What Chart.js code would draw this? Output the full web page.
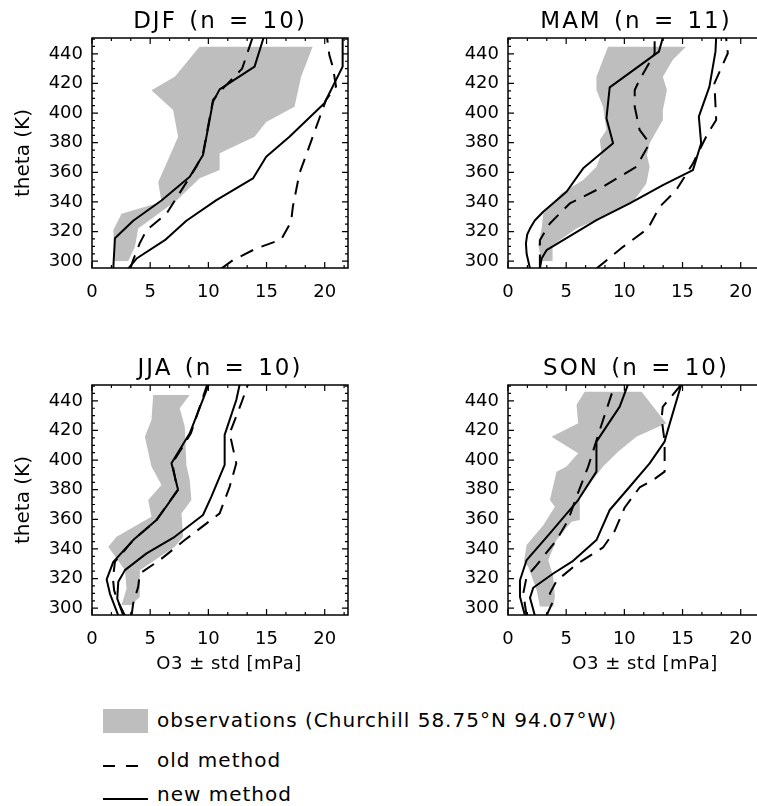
<!DOCTYPE html>
<html>
<head>
<meta charset="utf-8">
<script src="https://cdn.jsdelivr.net/npm/chart.js@4.4.0/dist/chart.umd.min.js"></script>
<style>
html,body{margin:0;padding:0;width:757px;height:806px;overflow:hidden;background:#fff;}
body{position:relative;font-family:"DejaVu Sans",sans-serif;color:#000;}
canvas{position:absolute;}
.txt{position:absolute;white-space:nowrap;line-height:1;transform:translate(-50%,-50%);}
.ttl{font-size:23px;letter-spacing:2px;word-spacing:3px;}
.ytl{font-size:20px;transform:translate(-50%,-50%) rotate(-90deg);}
.xtl{font-size:18px;letter-spacing:0.5px;}
.leg{position:absolute;white-space:nowrap;line-height:1;font-size:20px;letter-spacing:1px;transform:translateY(-50%);}
.sw{position:absolute;}
</style>
</head>
<body>
<script>
// ---------------- data (O3 [mPa], theta [K]) ----------------
const seasons = ['DJF', 'MAM', 'JJA', 'SON'];
const counts = [10, 11, 10, 10];
const xTicks = [0, 5, 10, 15, 20];
const yTicks = [300, 320, 340, 360, 380, 400, 420, 440];

// DJF
const djfObsLeft  = [[1.97,300],[1.83,321],[2.54,332],[5.97,340],[5.69,353.5],[6.4,366],[7.4,384],[6.97,402],[5.11,415.5],[7.11,424.5],[9.26,445]];
const djfObsRight = [[3.11,300],[3.69,309.7],[3.97,322],[7.26,341],[9.26,356],[10.97,361.5],[10.97,372.8],[13.97,384],[14.97,394],[17.4,404.3],[17.97,424.6],[18.97,445]];
const djfOldLow   = [[3.3,295],[3.5,300],[4.1,312],[4.69,321],[6.4,332],[7.69,348],[8.97,363.8],[9.54,372.8],[9.97,390.8],[10.4,408.9],[11.26,416.7],[12.9,430],[13.8,451]];
const djfOldHigh  = [[11.11,295],[12.11,300.7],[14.11,308.6],[16.26,314.6],[17.11,326.6],[17.26,336.7],[17.83,359.3],[18.97,384],[20.11,408.9],[20.97,418],[20.7,431],[20.4,439],[20.2,451]];
const djfNewLow   = [[1.83,295],[1.97,315.5],[3.54,327.3],[5.97,341],[8.4,357],[9.54,371.7],[10.4,407.7],[10.97,416],[13.97,431.4],[14.75,451]];
const djfNewHigh  = [[3.11,295],[3.83,301.8],[6.26,314.2],[8.11,327.3],[10.69,341.2],[13.83,355.9],[14.97,370.5],[16.97,384],[19.97,406.6],[21.54,431.4],[21.54,451]];

// MAM
const mamObsLeft  = [[2.89,300],[2.6,311],[2.89,322],[3.03,332],[4.6,345.8],[6.46,354.8],[7.6,363.8],[8.03,372.8],[7.89,381.8],[8.46,388.6],[8.17,404.3],[7.6,415.6],[7.6,424.6],[8.6,445]];
const mamObsRight = [[3.83,300],[3.83,310.8],[5.89,322],[8.17,330],[10.74,340],[11.89,352.5],[12.17,363.8],[11.94,371.7],[12.17,379.6],[13.31,395.3],[13.31,402],[13.66,415.6],[13.31,424.6],[14.17,436],[15.31,445]];
const mamOldLow   = [[2.74,295],[2.74,314.2],[3.6,325.5],[5.31,339],[8.17,350.3],[11.03,363.8],[12.17,379.6],[11.31,388.6],[10.89,404.3],[10.89,415.6],[11.31,422.4],[12.6,440.4],[12.6,451]];
const mamOldHigh  = [[7.6,295],[9.89,309.7],[12.03,322.1],[13.03,336.7],[14.46,348],[15.89,366],[17.17,386.3],[17.89,395.3],[17.74,420.1],[18.89,440.4],[18.74,451]];
const mamNewLow   = [[1.89,295],[1.6,305],[1.54,312],[1.65,318],[1.89,322],[2.3,327.5],[3.03,333.4],[5.03,346.9],[6.46,362.7],[9.03,379.6],[8.46,396.5],[8.74,417.4],[12.97,441.5],[13.31,451]];
const mamNewHigh  = [[2.74,295],[2.89,301.8],[3.31,307.4],[4.74,314.2],[7.6,327.7],[10.46,339],[13.31,351.4],[15.89,361.5],[16.6,379.6],[16.4,397.6],[17.31,417.9],[17.83,441.5],[17.89,451]];

// JJA
const jjaObsLeft  = [[2.54,302],[2.97,313.3],[2.83,325.7],[1.4,341.5],[2.11,348.2],[5.11,361.8],[4.83,373],[5.97,383.2],[5.11,395.6],[4.54,415.8],[5.11,427.1],[5.26,444]];
const jjaObsRight = [[3.4,302],[4.11,307.7],[4.11,325.7],[7.11,341.5],[7.83,348.2],[7.69,364],[8.54,373],[8.4,386.5],[8.11,396.7],[7.97,422.6],[7.54,435],[8.4,444]];
const jjaOldLow   = [[2.83,295],[2.2,305],[1.9,312],[1.8,320],[1.97,331.3],[3.54,346],[5.54,359.5],[7.35,379.8],[6.9,397.8],[8.5,418.1],[9.9,451]];
const jjaOldHigh  = [[3.4,295],[3.54,303.2],[3.97,314.4],[4.11,323.4],[5.83,332.5],[7.97,346],[10.97,364],[11.83,382],[12.4,397.8],[11.83,418.1],[12.83,438.4],[13.4,451]];
const jjaNewLow   = [[2.26,295],[1.54,309.9],[1.26,319.4],[1.83,331.3],[3.54,346],[5.54,359.5],[7.4,379.8],[6.83,397.8],[8.4,418.1],[10.03,451]];
const jjaNewHigh  = [[2.69,295],[2.17,306.5],[2.26,317.8],[2.83,325.7],[4.69,337],[7.11,348.2],[9.54,362.9],[10.26,375.3],[11.4,396.7],[11.4,417],[12.4,440.6],[12.69,451]];

// SON
const sonObsLeft  = [[2.74,301],[2.46,312.2],[1.74,327.9],[1.37,331.3],[1.6,342.6],[3.03,356],[4.03,368.5],[3.6,373],[4.17,392.2],[5.03,395.6],[6.03,404.6],[3.74,415.8],[6.03,424.9],[5.89,437.3],[6.6,446.3]];
const sonObsRight = [[3.89,301],[4.03,307.7],[3.89,321.2],[3.46,332.5],[4.17,346],[5.46,358.4],[6.17,359.5],[6.17,375.3],[8.17,395.6],[9.46,405.7],[11.03,415.8],[13.6,424.9],[11.46,446.3]];
const sonOldLow   = [[1.6,295],[1.31,309.9],[1.6,321.2],[2.46,329.1],[4.17,346],[5.17,359.5],[5.89,375.3],[6.89,395.6],[7.89,420.4],[8.6,437.3],[9.17,451]];
const sonOldHigh  = [[3.31,295],[3.89,305],[3.6,310],[4.17,318.4],[5.89,329.7],[8.17,341],[9.17,352.2],[10.03,368],[11.31,381.5],[12.46,386.5],[13.46,392.2],[13.46,399],[13.46,412.5],[13.2,428],[13.3,436],[14.89,451]];
const sonNewLow   = [[1.46,295],[1.03,307.7],[1.03,318.9],[1.6,332.5],[3.6,350.5],[6.03,373],[7.6,392.2],[7.6,412.5],[9.6,436.1],[10.31,451]];
const sonNewHigh  = [[2.31,295],[1.89,307],[2.17,313.8],[3.89,323.4],[5.6,332],[7.6,346],[8.74,366.3],[10.46,382],[12.17,397.8],[13.46,412.5],[13.74,420.4],[14.89,451]];

const seasonData = [
  {obsL: djfObsLeft, obsR: djfObsRight, oldL: djfOldLow, oldH: djfOldHigh, newL: djfNewLow, newH: djfNewHigh},
  {obsL: mamObsLeft, obsR: mamObsRight, oldL: mamOldLow, oldH: mamOldHigh, newL: mamNewLow, newH: mamNewHigh},
  {obsL: jjaObsLeft, obsR: jjaObsRight, oldL: jjaOldLow, oldH: jjaOldHigh, newL: jjaNewLow, newH: jjaNewHigh},
  {obsL: sonObsLeft, obsR: sonObsRight, oldL: sonOldLow, oldH: sonOldHigh, newL: sonNewLow, newH: sonNewHigh}
];

// ---------------- layout / style ----------------
const GREY = '#bebebe';
const FONT = '"DejaVu Sans", sans-serif';
const panels = [
  {left: 0,   top: 0,   w: 378, h: 340, area: {l: 92,  t: 38, r: 348, b: 268}},
  {left: 378, top: 0,   w: 400, h: 340, area: {l: 130, t: 38, r: 386, b: 268}},
  {left: 0,   top: 340, w: 378, h: 320, area: {l: 92,  t: 45, r: 348, b: 275}},
  {left: 378, top: 340, w: 400, h: 320, area: {l: 130, t: 45, r: 386, b: 275}}
];

const toPts = arr => arr.map(p => ({x: p[0], y: p[1]}));

const boxPlugin = {
  id: 'idlbox',
  afterDraw(chart) {
    const {ctx, chartArea: a, scales: {x, y}} = chart;
    ctx.save();
    ctx.strokeStyle = '#000';
    ctx.lineWidth = 1.5;
    ctx.strokeRect(a.left, a.top, a.right - a.left, a.bottom - a.top);
    ctx.beginPath();
    for (let i = 0; i * 5 / 3 <= 22; i++) {
      const v = i * 5 / 3;
      const px = x.getPixelForValue(v);
      const len = (i % 3 === 0) ? 6 : 3;
      ctx.moveTo(px, a.bottom); ctx.lineTo(px, a.bottom - len);
      ctx.moveTo(px, a.top); ctx.lineTo(px, a.top + len);
    }
    for (let v = 300; v <= 450; v += 5) {
      const py = y.getPixelForValue(v);
      const len = (v % 20 === 0) ? 6 : 3;
      ctx.moveTo(a.left, py); ctx.lineTo(a.left + len, py);
      ctx.moveTo(a.right, py); ctx.lineTo(a.right - len, py);
    }
    ctx.lineWidth = 1.2;
    ctx.stroke();
    ctx.restore();
  }
};

function addText(cls, text, x, y) {
  const d = document.createElement('div');
  d.className = cls;
  d.textContent = text;
  d.style.left = x + 'px';
  d.style.top = y + 'px';
  document.body.appendChild(d);
  return d;
}

panels.forEach((p, idx) => {
  const cv = document.createElement('canvas');
  cv.width = p.w; cv.height = p.h;
  cv.style.left = p.left + 'px'; cv.style.top = p.top + 'px';
  cv.style.width = p.w + 'px'; cv.style.height = p.h + 'px';
  document.body.appendChild(cv);
  const s = seasonData[idx];
  const a = p.area;
  const lineDs = (d, dashed) => ({
    data: toPts(d), borderColor: '#000', borderWidth: 2, borderDash: dashed ? [14, 9] : [],
    fill: false, pointRadius: 0, borderJoinStyle: 'round', borderCapStyle: 'butt'
  });
  new Chart(cv, {
    type: 'line',
    data: {
      datasets: [
        {data: toPts(s.obsL), borderWidth: 0, borderColor: 'rgba(0,0,0,0)', backgroundColor: GREY, fill: false, pointRadius: 0},
        {data: toPts(s.obsR), borderWidth: 0, borderColor: 'rgba(0,0,0,0)', backgroundColor: GREY, fill: '-1', pointRadius: 0},
        lineDs(s.oldL, true),
        lineDs(s.oldH, true),
        lineDs(s.newL, false),
        lineDs(s.newH, false)
      ]
    },
    options: {
      indexAxis: 'y',
      responsive: false,
      animation: false,
      devicePixelRatio: 1,
      layout: {padding: {left: 0, top: a.t, right: p.w - a.r, bottom: 0}},
      elements: {point: {radius: 0}, line: {tension: 0}},
      plugins: {
        legend: {display: false}, tooltip: {enabled: false}, title: {display: false},
        filler: {drawTime: 'beforeDatasetsDraw'}
      },
      scales: {
        x: {
          type: 'linear', position: 'bottom', min: 0, max: 22,
          grid: {display: false, drawTicks: false}, border: {display: false},
          ticks: {color: '#000', font: {family: FONT, size: 18}, padding: 14, maxRotation: 0, autoSkip: false},
          afterBuildTicks: sc => { sc.ticks = xTicks.map(v => ({value: v})); },
          afterFit: sc => { sc.height = p.h - a.b; }
        },
        y: {
          type: 'linear', position: 'left', min: 295.4, max: 450.7,
          grid: {display: false, drawTicks: false}, border: {display: false},
          ticks: {color: '#000', font: {family: FONT, size: 18}, padding: 9, autoSkip: false},
          afterBuildTicks: sc => { sc.ticks = yTicks.map(v => ({value: v})); },
          afterFit: sc => { sc.width = a.l; }
        }
      }
    },
    plugins: [boxPlugin]
  });

  const cx = p.left + (a.l + a.r) / 2;
  const plotTop = p.top + a.t;
  const plotMid = p.top + (a.t + a.b) / 2;
  addText('txt ttl', seasons[idx] + ' (n = ' + counts[idx] + ')', cx, plotTop - 18);
  if (idx % 2 === 0) addText('txt ytl', 'theta (K)', 22, plotMid);
  if (idx >= 2) addText('txt xtl', 'O3 \u00b1 std [mPa]', cx + 9, p.top + a.b + 48);
});

// ---------------- legend ----------------
const legendLabels = ['observations (Churchill 58.75\u00b0N 94.07\u00b0W)', 'old method', 'new method'];
function sw(x, y, w, h, bg) {
  const d = document.createElement('div');
  d.className = 'sw';
  Object.assign(d.style, {left: x + 'px', top: y + 'px', width: w + 'px', height: h + 'px', background: bg});
  document.body.appendChild(d);
}
sw(103, 709, 45, 24, GREY);
sw(103, 765, 12, 1.6, '#000');
sw(126, 765, 12, 1.6, '#000');
sw(103, 798, 45, 1.6, '#000');
addText('leg', legendLabels[0], 157, 720);
addText('leg', legendLabels[1], 157, 760);
addText('leg', legendLabels[2], 157, 794);
</script>
</body>
</html>
